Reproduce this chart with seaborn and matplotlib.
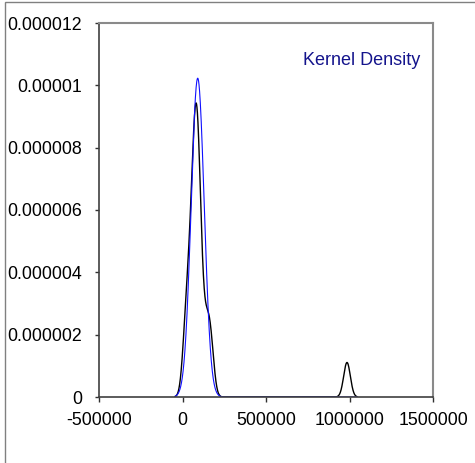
import numpy as np
import pandas as pd
import matplotlib
matplotlib.use("Agg")
import matplotlib.pyplot as plt
from matplotlib.patches import Rectangle
from matplotlib.ticker import FuncFormatter
import seaborn as sns

# Observed values (kernel density, black curve)
observations = [15000, 28000, 42000, 55000, 65000, 66000, 70000, 81000, 84000,
                88000, 91000, 95000, 100000, 112000, 135000, 155000, 172000,
                985000]
kernel_bandwidth = 20000

# Fitted normal curve (blue)
normal_mean = 91000
normal_sd = 39000

x_ticks = [-500000, 0, 500000, 1000000, 1500000]
y_ticks = [0, 0.000002, 0.000004, 0.000006, 0.000008, 0.00001, 0.000012]
legend_text = "Kernel Density"

sns.set_style("ticks")
plt.rcParams["font.family"] = ["Liberation Sans", "DejaVu Sans"]

fig = plt.figure(figsize=(4.75, 4.63), dpi=100)
ax = fig.add_axes([99 / 475, 66 / 463, 334 / 475, 374 / 463])

df = pd.DataFrame({"value": observations})
bw_factor = kernel_bandwidth / np.std(df["value"], ddof=1)
sns.kdeplot(data=df, x="value", bw_method=bw_factor, cut=3, gridsize=2000,
            color="black", linewidth=1.0, ax=ax)

lo = min(observations) - 3 * kernel_bandwidth
hi = max(observations) + 3 * kernel_bandwidth
grid = np.linspace(lo, hi, 2000)
pdf = np.exp(-0.5 * ((grid - normal_mean) / normal_sd) ** 2) / (normal_sd * np.sqrt(2 * np.pi))
sns.lineplot(x=grid, y=pdf, color="#1010ff", linewidth=0.8, ax=ax)

ax.set_xlim(x_ticks[0], x_ticks[-1])
ax.set_ylim(y_ticks[0], y_ticks[-1])
ax.set_xticks(x_ticks)
ax.set_yticks(y_ticks)
ax.xaxis.set_major_formatter(FuncFormatter(lambda v, p: f"{int(round(v))}"))
ax.yaxis.set_major_formatter(
    FuncFormatter(lambda v, p: f"{v:.6f}".rstrip("0").rstrip(".")))
ax.set_xlabel("")
ax.set_ylabel("")
ax.tick_params(axis="both", labelsize=12.8, width=1.0, colors="#303030",
               labelcolor="black", direction="out")
ax.tick_params(axis="y", length=3, pad=9.2)
ax.tick_params(axis="x", length=3.6, pad=7)

for side in ("left", "bottom"):
    ax.spines[side].set_color("#404040")
    ax.spines[side].set_linewidth(1.2)
for side in ("top", "right"):
    ax.spines[side].set_visible(True)
    ax.spines[side].set_color("#8a8a8a")
    ax.spines[side].set_linewidth(1.5)

ax.text(0.962, 0.9, legend_text, transform=ax.transAxes, ha="right", va="center",
        fontsize=13, color="#14148c")

# Outer chart frame
fig.patches.append(Rectangle((5 / 475, -0.05), 1.2, 1.05 - 2 / 463,
                             transform=fig.transFigure, fill=False,
                             edgecolor="#808080", linewidth=1.0))

fig.savefig("out.png", dpi=100, facecolor="white")
